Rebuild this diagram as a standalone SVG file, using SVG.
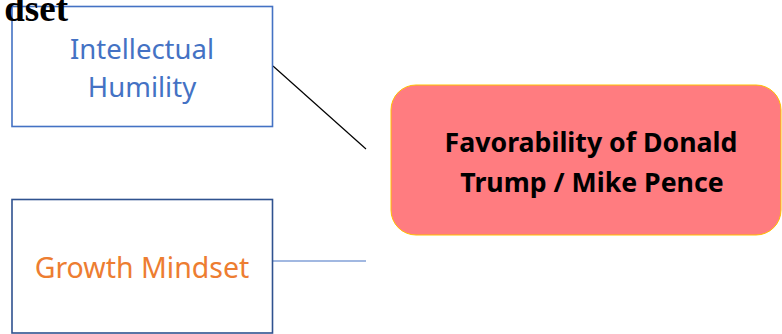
<svg xmlns="http://www.w3.org/2000/svg" width="782" height="334" viewBox="0 0 782 334">
<style>
.box{fill:#fff;stroke-width:1.6}
.lbl{font-family:"Noto Sans","Open Sans",sans-serif;font-size:27.5px;text-anchor:middle}
.out{font-family:"Noto Sans","Open Sans",sans-serif;font-size:26.7px;font-weight:bold;text-anchor:middle;fill:#000}
.ttl{font-family:"Liberation Serif",serif;font-weight:bold;font-size:37px;text-anchor:end;fill:#000}
</style>
<rect width="782" height="334" fill="#fff"/>
<g id="connectors">
<line x1="273" y1="66" x2="366" y2="149" stroke="#000" stroke-width="1.2"/>
<line x1="273" y1="261" x2="366" y2="261" stroke="#4472C4" stroke-width="1.2"/>
</g>
<g id="node-humility">
<rect class="box" x="12" y="6.5" width="260.5" height="120" stroke="#4472C4"/>
<text class="lbl" x="142" y="59" fill="#4472C4">Intellectual</text>
<text class="lbl" x="142" y="97" fill="#4472C4">Humility</text>
</g>
<g id="node-growth">
<rect class="box" x="12" y="199.5" width="260.5" height="133.5" stroke="#2F528F"/>
<text class="lbl" x="142" y="278" fill="#ED7D31" style="font-size:28.5px">Growth Mindset</text>
</g>
<g id="node-favorability">
<rect x="391" y="85" width="390" height="150" rx="25" ry="25" fill="#FF7C80" stroke="#FFC000" stroke-width="1"/>
<text class="out" x="591" y="152">Favorability of Donald</text>
<text class="out" x="592" y="192">Trump / Mike Pence</text>
</g>
<text class="ttl" x="68" y="21">dset</text>
</svg>
